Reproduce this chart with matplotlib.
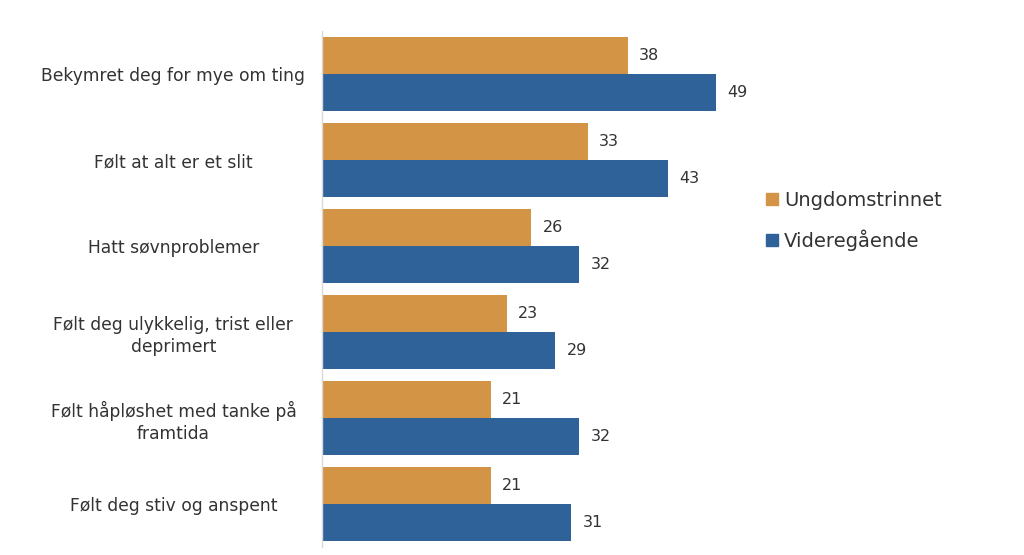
import matplotlib.pyplot as plt
from matplotlib.lines import Line2D
import numpy as np

categories = ["Bekymret deg for mye om ting", "Følt at alt er et slit", "Hatt søvnproblemer",
              "Følt deg ulykkelig, trist eller\ndeprimert", "Følt håpløshet med tanke på\nframtida",
              "Følt deg stiv og anspent"]
ungdom = [38, 33, 26, 23, 21, 21]
vgs = [49, 43, 32, 29, 32, 31]
series_names = ["Ungdomstrinnet", "Videregående"]
colors = ["#D39445", "#2F6299"]

fig = plt.figure(figsize=(10.24, 5.55), dpi=100)
ax = fig.add_axes([322/1024, 1-547/555, 420/1024, 516/555])
y = np.arange(len(categories))
h = 0.425
ax.barh(y - h/2, ungdom, height=h, color=colors[0])
ax.barh(y + h/2, vgs, height=h, color=colors[1])
for i in range(len(categories)):
    ax.text(ungdom[i] + 1.4, y[i] - h/2, str(ungdom[i]), va='center', ha='left', fontsize=11.5, color='#333333')
    ax.text(vgs[i] + 1.4, y[i] + h/2, str(vgs[i]), va='center', ha='left', fontsize=11.5, color='#333333')
ax.set_xlim(0, 52.2)
ax.set_ylim(len(categories) - 0.5, -0.5)
ax.set_yticks(y)
ax.set_yticklabels(categories, fontsize=12.3, color='#333333', ha='center', linespacing=1.25)
ax.tick_params(axis='y', length=0, pad=107)
ax.set_xticks([])
for s in ['top', 'right', 'bottom']:
    ax.spines[s].set_visible(False)
ax.spines['left'].set_color('#D9D9D9')
ax.spines['left'].set_linewidth(1.0)

handles = [Line2D([], [], marker='s', linestyle='none', markersize=8, color=c) for c in colors]
fig.legend(handles, series_names, loc='center left', bbox_to_anchor=(745/1024, 1-221/555),
           frameon=False, fontsize=14, handletextpad=0.1, labelspacing=1.0, labelcolor='#333333',
           handlelength=1.0)
fig.savefig("out.png", dpi=100)
